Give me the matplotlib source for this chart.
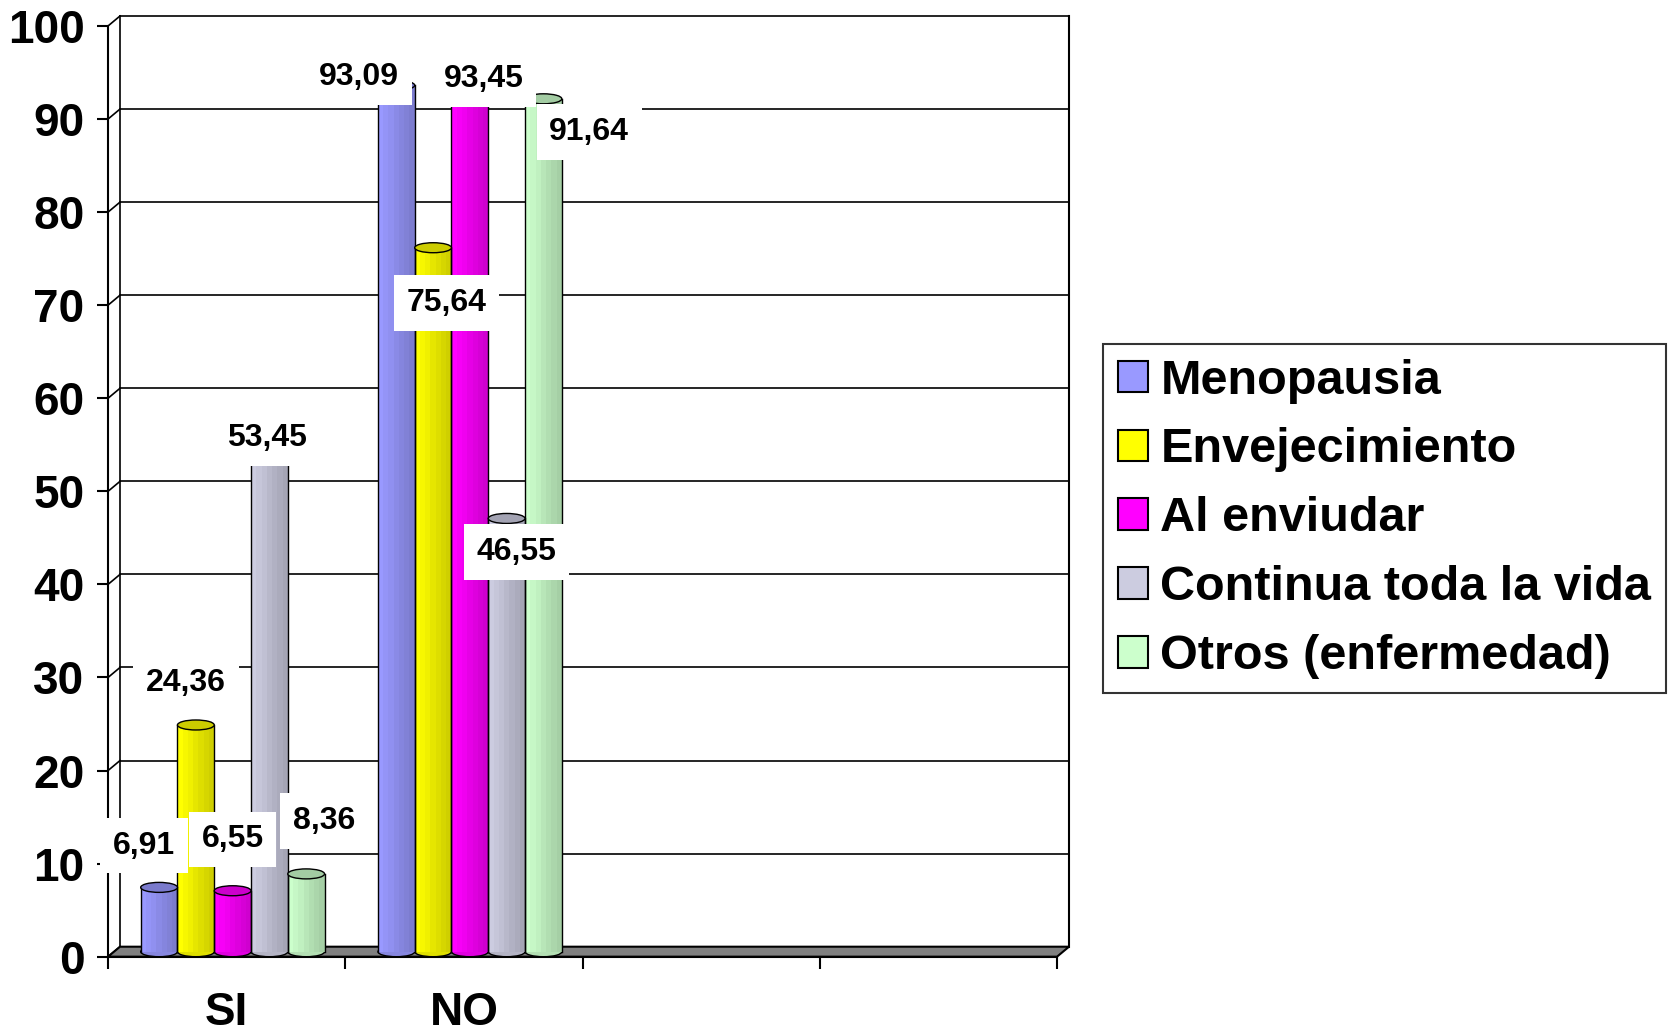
import matplotlib
matplotlib.use('Agg')
import matplotlib.pyplot as plt
import matplotlib.colors as mcolors
from matplotlib.patches import Ellipse, Polygon, Patch
import numpy as np

plt.rcParams['font.family'] = ['Liberation Sans', 'DejaVu Sans']
plt.rcParams['font.weight'] = 'bold'

# datos
categories = ['SI', 'NO']
series = ['Menopausia', 'Envejecimiento', 'Al enviudar',
          'Continua toda la vida', 'Otros (enfermedad)']
si_values = [6.91, 24.36, 6.55, 53.45, 8.36]
no_values = [93.09, 75.64, 93.45, 46.55, 91.64]
colors = ['#9999FF', '#FFFF00', '#FF00FF', '#CCCCE0', '#CCFFCC']
y_ticks = list(range(0, 101, 10))
n_slots = 4

# posiciones de las etiquetas (desplazamiento en puntos desde la tapa)
si_offsets = [(-11, 30), (-7, 30), (0, 37), (-2, 11.5), (13, 38)]
no_offsets = [(-27, 6), (9.5, -40), (10, 2), (7, -24), (33, -24)]

W, H = 1669, 1034
fig = plt.figure(figsize=(W / 100, H / 100), dpi=100)
ax = fig.add_axes([108 / W, (H - 956.7) / H, 949 / W, 930.7 / H])
ax.set_xlim(0, n_slots)
ax.set_ylim(0, 100)

# profundidad 3D en unidades de datos
px_x = 949 / n_slots
px_y = 930.7 / 100
DX = 12 / px_x
DY = 10 / px_y

# pared del fondo, suelo
for y in y_ticks:
    ax.plot([DX, n_slots + DX], [y + DY, y + DY], color='black', lw=1.2, zorder=1, clip_on=False)
    ax.plot([0, DX], [y, y + DY], color='black', lw=1.2, zorder=1, clip_on=False)
ax.plot([DX, DX], [DY, 100 + DY], color='black', lw=1.2, zorder=1, clip_on=False)
ax.plot([n_slots + DX, n_slots + DX], [DY, 100 + DY], color='black', lw=1.5, zorder=1, clip_on=False)
floor = Polygon([(0, 0), (n_slots, 0), (n_slots + DX, DY), (DX, DY)], closed=True,
                fc='#808080', ec='black', lw=1.5, zorder=2, clip_on=False)
ax.add_patch(floor)

bar_w = 0.155
group_w = bar_w * len(series)
shades = [1.0, 0.97, 0.94, 0.9, 0.87, 0.84, 0.81]


def cylinder(xc, value, color):
    base = np.array(mcolors.to_rgb(color))
    n = len(shades)
    sw = bar_w / n
    lefts = xc - bar_w / 2 + sw * np.arange(n)
    ax.add_patch(Ellipse((xc, DY / 2), bar_w, DY, fc=base * 0.88, ec='black', lw=1,
                         zorder=3, clip_on=False))
    ax.bar(lefts, [value] * n, width=sw, bottom=DY / 2, align='edge',
           color=[base * s for s in shades], edgecolor='none', zorder=3.1, clip_on=False)
    ax.plot([xc - bar_w / 2] * 2, [DY / 2, value + DY / 2], color='black', lw=1, zorder=3.2)
    ax.plot([xc + bar_w / 2] * 2, [DY / 2, value + DY / 2], color='black', lw=1, zorder=3.2)
    ax.add_patch(Ellipse((xc, value + DY / 2), bar_w, DY, fc=base * 0.8, ec='black', lw=1,
                         zorder=3.3, clip_on=False))


groups = [si_values, no_values]
offsets = [si_offsets, no_offsets]
for g, (vals, offs) in enumerate(zip(groups, offsets)):
    for i, v in enumerate(vals):
        xc = g + 0.5 - group_w / 2 + bar_w * (i + 0.5) + DX / 2
        cylinder(xc, v, colors[i])
        ax.annotate(f'{v:.2f}'.replace('.', ','), xy=(xc, v + DY / 2), xytext=offs[i],
                    textcoords='offset points', ha='center', va='center',
                    fontsize=23, fontweight='bold', zorder=10,
                    bbox=dict(boxstyle='square,pad=0.4', fc='white', ec='none'))

# ejes
for s in ['top', 'right']:
    ax.spines[s].set_visible(False)
ax.spines['left'].set_linewidth(1.5)
ax.spines['bottom'].set_linewidth(1.5)
ax.spines['bottom'].set_zorder(2.5)
ax.set_yticks(y_ticks)
ax.set_yticklabels([str(t) for t in y_ticks], fontsize=33, fontweight='bold')
ax.tick_params(axis='y', direction='out', length=8, width=1.5, pad=9)
ax.set_xticks(range(n_slots + 1))
ax.set_xticklabels([])
ax.tick_params(axis='x', which='major', direction='out', length=8.5, width=1.5)
ax.set_xticks([0.5 + k for k in range(len(categories))], minor=True)
ax.set_xticklabels(categories, minor=True, fontsize=33, fontweight='bold')
ax.tick_params(axis='x', which='minor', length=0, pad=25)

handles = [Patch(fc=c, ec='black', lw=1.5) for c in colors]
leg = fig.legend(handles, series, loc='upper left', bbox_to_anchor=(1103 / W, (H - 344) / H),
                 frameon=True, fancybox=False, edgecolor='black', fontsize=35,
                 handlelength=0.62, handleheight=0.62, handletextpad=0.26,
                 labelspacing=0.49, borderpad=0.3, borderaxespad=0)
leg.get_frame().set_linewidth(1.5)
for t in leg.get_texts():
    t.set_fontweight('bold')

fig.savefig('out.png', dpi=100)
